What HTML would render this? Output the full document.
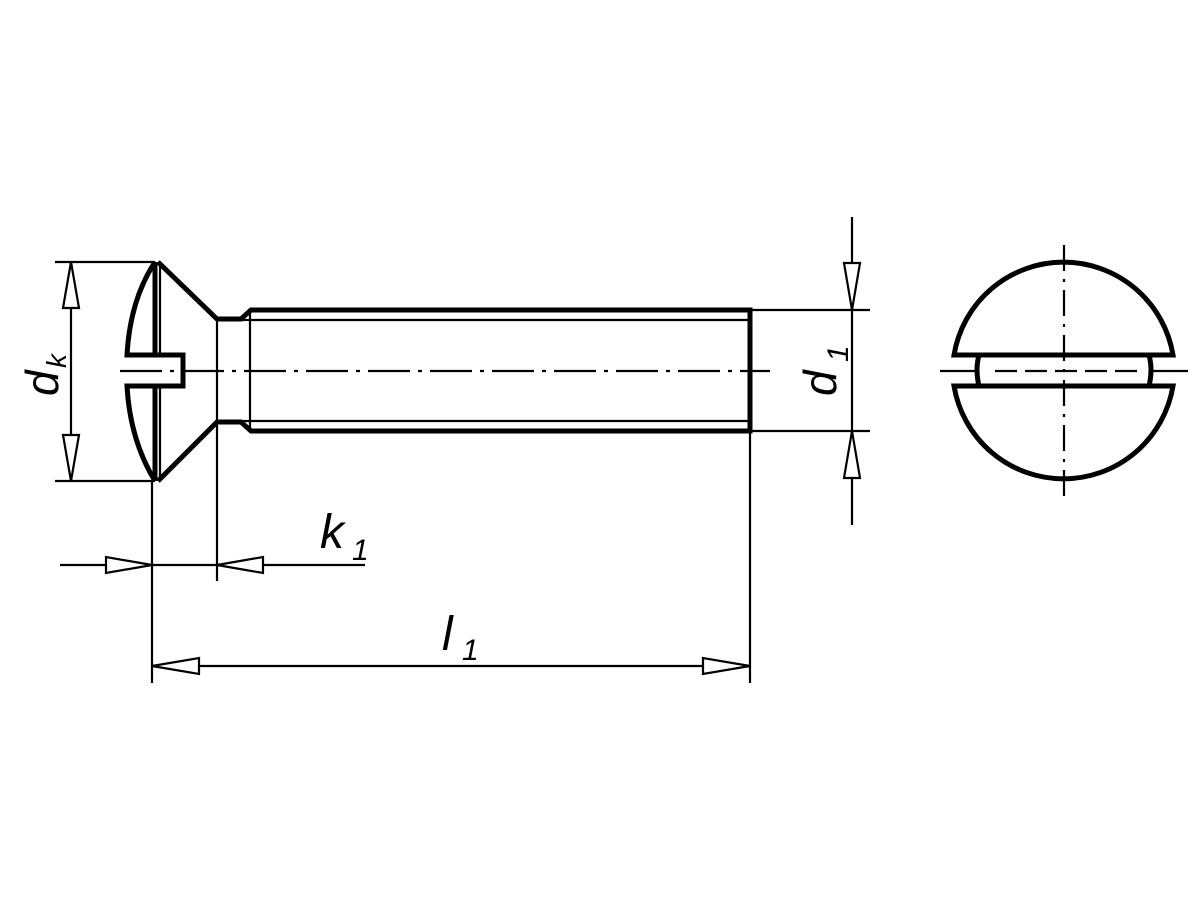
<!DOCTYPE html>
<html><head><meta charset="utf-8"><style>html,body{margin:0;padding:0;background:#fff}svg{display:block}text{font-family:"Liberation Sans",sans-serif;font-style:italic;fill:#000}</style></head>
<body>
<svg width="1200" height="900" viewBox="0 0 1200 900" xmlns="http://www.w3.org/2000/svg">
<g fill="none" stroke="#000" stroke-linecap="butt" stroke-linejoin="miter">
<g stroke-width="5">
<path d="M155,262 Q130,300 127,355 L183,355 L183,386 L127,386 Q130,440 155,481"/>
<line x1="155" y1="262" x2="155" y2="355"/>
<line x1="155" y1="386" x2="155" y2="481"/>
<path d="M158,262 L217,319 L241,319 L251,310 L750,310 L750,431 L251,431 L241,422 L217,422 L158,481"/>
</g>
<g stroke-width="2.2">
<line x1="160" y1="262" x2="160" y2="355"/>
<line x1="160" y1="386" x2="160" y2="481"/>
<line x1="250" y1="320" x2="750" y2="320"/>
<line x1="250" y1="421" x2="750" y2="421"/>
<line x1="250" y1="310" x2="250" y2="431"/>
<line x1="241" y1="320" x2="250" y2="320"/>
<line x1="241" y1="421" x2="250" y2="421"/>
<line x1="120" y1="371" x2="770" y2="371" stroke-dasharray="42,8,4,8"/>
<line x1="217" y1="319" x2="217" y2="581"/>
<line x1="152" y1="481" x2="152" y2="683"/>
<line x1="750" y1="431" x2="750" y2="683"/>
<line x1="55" y1="262" x2="155" y2="262"/>
<line x1="55" y1="481" x2="155" y2="481"/>
<line x1="750" y1="310" x2="870" y2="310"/>
<line x1="750" y1="431" x2="870" y2="431"/>
<line x1="71" y1="262" x2="71" y2="481"/>
<path d="M71,262 L63,308 L79,308 Z" fill="#fff"/>
<path d="M71,481 L63,435 L79,435 Z" fill="#fff"/>
<line x1="852" y1="217" x2="852" y2="525"/>
<path d="M852,310 L844,263 L860,263 Z" fill="#fff"/>
<path d="M852,431 L844,478 L860,478 Z" fill="#fff"/>
<line x1="60" y1="565" x2="365" y2="565"/>
<path d="M152,565 L106,557 L106,573 Z" fill="#fff"/>
<path d="M217,565 L263,557 L263,573 Z" fill="#fff"/>
<line x1="152" y1="666" x2="750" y2="666"/>
<path d="M152,666 L199,658 L199,674 Z" fill="#fff"/>
<path d="M750,666 L703,658 L703,674 Z" fill="#fff"/>
</g>
<g stroke-width="5">
<path d="M954,355 A111,111 0 0 1 1173,355 Z"/>
<path d="M954,386 A111,111 0 0 0 1173,386 Z"/>
<path d="M979,355 Q975,370 979,386"/>
<path d="M1149,355 Q1153,370 1149,386"/>
</g>
<g stroke-width="2.2">
<line x1="940" y1="371" x2="976" y2="371"/>
<line x1="1152" y1="371" x2="1188" y2="371"/>
<line x1="995" y1="371" x2="1140" y2="371" stroke-dasharray="22,8"/>
<line x1="1064" y1="245" x2="1064" y2="500" stroke-dasharray="26,8,3,8"/>
</g>
</g>
<g>
<text x="0" y="0" font-size="46" transform="translate(58,396) rotate(-90)">d</text>
<text x="0" y="0" font-size="28" transform="translate(66,368) rotate(-90)">k</text>
<text x="0" y="0" font-size="46" transform="translate(836,396) rotate(-90)">d</text>
<text x="0" y="0" font-size="30" transform="translate(848,362) rotate(-90)">1</text>
<text x="320" y="548" font-size="48">k</text>
<text x="352" y="560" font-size="30">1</text>
<text x="442" y="650" font-size="48">l</text>
<text x="462" y="660" font-size="30">1</text>
</g>
</svg>
</body></html>
